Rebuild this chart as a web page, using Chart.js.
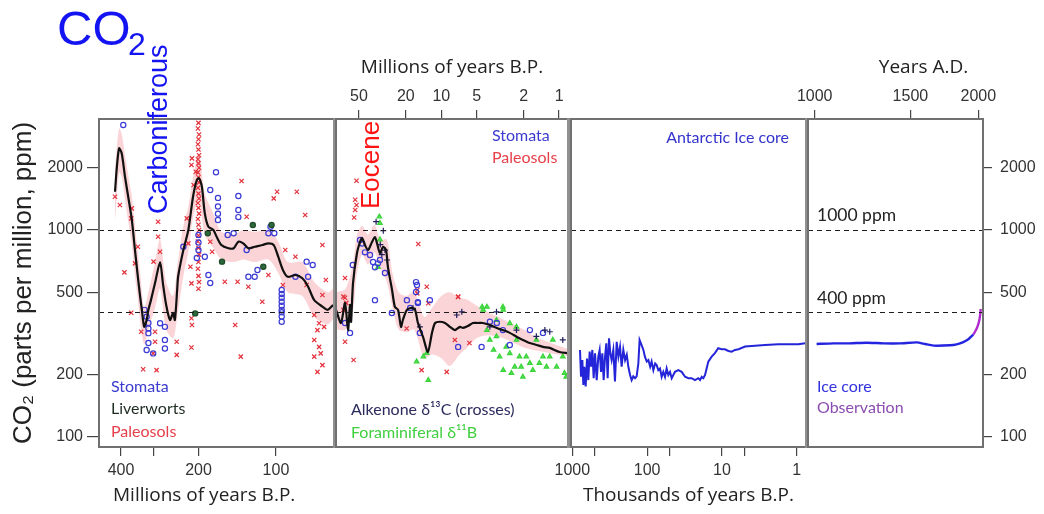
<!DOCTYPE html>
<html>
<head>
<meta charset="utf-8">
<script src="https://cdn.jsdelivr.net/npm/chart.js@4.4.1/dist/chart.umd.min.js"></script>
<style>
  html, body { margin: 0; padding: 0; background: #ffffff; }
  #wrap { position: relative; width: 1044px; height: 514px; overflow: hidden; background: #ffffff; }
  #wrap canvas { position: absolute; left: 0; top: 0; }
</style>
</head>
<body>
<div id="wrap">
  <canvas id="deep" width="1044" height="514"></canvas>
  <canvas id="ceno" width="1044" height="514"></canvas>
  <canvas id="ice" width="1044" height="514"></canvas>
  <canvas id="recent" width="1044" height="514"></canvas>
</div>
<script>
// ---- tick values ----
const ppmTicks = [100, 200, 500, 1000, 2000];
const refLevels = [1000, 400];
const deepTicks = [400, 300, 200, 100];           // millions of years B.P.
const cenoTicks = [50, 20, 10, 5, 2, 1];          // millions of years B.P.
const iceTicks = [1000, 500, 100, 50, 10, 5, 1];  // thousands of years B.P.
const adTicks = [1000, 1500, 2000];               // years A.D.

// ---- Palaeozoic / Mesozoic panel: [age Myr, CO2 ppm] ----
const deepFit = [[422,1532],[416,1951],[407,2485],[397.5,2350],[386,1811],[375,1449],[363,1118],[353,800],[344,594],[337,476],[332,411],[325,340],[318,367],[313,411],[306,458],[295,554],[282,700],[275,554],[267,434],[258,367],[251,397],[247,367],[242,513],[240,594],[229,800],[219,1000],[210,1449],[203,1746],[199,1779],[194,1620],[189,1204],[183,1037],[175,1000],[170,928],[163,846],[153,816],[146,816],[140,878],[134,862],[128,816],[121,830],[113,846],[107,862],[102,846],[98,743],[94,641],[90,594],[84,606],[79,584],[75,532],[71,458],[66,426],[63,411],[60,434]];
const deepBandUpper = [[422,2000],[407,3100],[397,2900],[386,2300],[375,1850],[363,1450],[353,1050],[344,780],[337,620],[325,420],[313,500],[295,700],[282,900],[267,560],[251,480],[242,660],[229,1050],[219,1300],[210,1800],[199,2300],[189,1500],[175,1200],[163,980],[146,950],[134,1000],[121,980],[107,1000],[98,880],[90,700],[79,700],[71,560],[63,500],[60,520]];
const deepBandLower = [[422,1100],[407,1900],[397,1800],[386,1400],[375,1100],[363,850],[353,600],[344,460],[337,360],[325,280],[313,330],[295,420],[282,520],[267,330],[251,300],[242,380],[229,600],[219,780],[210,1150],[199,1400],[189,950],[175,820],[163,720],[146,700],[134,720],[121,700],[107,720],[98,620],[90,500],[79,480],[71,380],[63,350],[60,370]];
const deepStomata = [[392,3222],[171,1903],[180,1561],[168,1430],[168,1300],[168,1200],[168,1118],[140,1460],[140,1250],[140,1155],[154,946],[200,946],[200,870],[200,800],[203,732],[189,743],[183,606],[180,554],[146,964],[130,800],[128,594],[121,594],[118,641],[107,964],[101.5,964],[105,1037],[84,594],[76,703],[72,677],[75,594],[229,830],[95,513],[95,490],[95,470],[95,450],[95,430],[95,411],[95,400],[95,382],[95,360],[324,411],[318,381],[313,355],[313,334],[313,317],[313,284],[318,263],[282,354],[270,340],[270,294],[270,267],[300,253]];
const deepLiverworts = [[162,703],[184,964],[112,664],[123,1057],[104,1057],[206,395]];
const deepPaleosols = [[422,1449],[404,1321],[363,1273],[365,1139],[344,830],[388,624],[353,690],[287,928],[282,785],[299,703],[287,1097],[212,2222],[213,2065],[205,1914],[209,1650],[222,1139],[219,862],[215,664],[213,552],[136,1725],[99,1532],[83,1532],[102,1423],[130,1160],[77,1182],[66,846],[141,562],[158,562],[128,532],[113,450],[107,606],[94,542],[64,573],[66,485],[84,743],[76,542],[92,800],[177,785],[180,878],
  [200,3300],[201,3100],[199,2900],[200,2750],[201,2600],[200,2450],[199,2300],[201,2200],[200,2100],[199,2000],[201,1900],[200,1800],[199,1700],[201,1600],[200,1500],[199,1420],[201,1350],[200,1280],[199,1200],[201,1130],[200,1060],[199,1000],[200,940],[201,880],[200,820],[199,760],[200,700],[201,650],[200,600],[199,560],[200,520],
  [365,398],[328,212],[291,210],[300,253],[295,288],[334,322],[243,249],[243,288],[213,270],[212,347],[213,374],[144,347],[137,244],[71,388],[68,354],[69,328],[71,294],[68,272],[67,253],[69,206],[66,222],[65,340],[71,244],[295,322]];

// ---- Cenozoic panel: [age Myr, CO2 ppm] ----
const cenoFit = [[78.3,411],[71.1,355],[65.7,444],[62,328],[59.6,434],[58.4,360],[56.2,554],[52,774],[49,875],[47.1,915],[44.5,846],[41.9,800],[38.8,875],[36.6,925],[35.2,865],[33.2,774],[31.3,828],[29.5,800],[28.4,662],[26.2,513],[24.8,425],[23.3,411],[22,340],[21.2,367],[19.6,411],[17.8,420],[16.7,411],[15.8,355],[14.3,304],[13,257],[12,318],[11.3,355],[10.3,360],[9.3,355],[8.45,340],[7.67,328],[6.95,340],[6.56,336],[5.95,343],[5.4,355],[4.89,355],[4.44,355],[3.87,347],[3.38,336],[3.0,328],[2.62,318],[2.28,304],[2.03,294],[1.77,284],[1.55,278],[1.37,272],[1.2,269],[0.99,257],[0.84,254]];
const cenoBandUpper = [[78,500],[65,520],[56,700],[52,950],[47,1050],[42,950],[37,1060],[33,900],[29,900],[26,620],[23,500],[20,480],[17,500],[14,380],[12,420],[10,480],[8.5,500],[7,470],[6,460],[5,430],[4,400],[3,370],[2,330],[1.5,300],[0.84,265]];
const cenoBandLower = [[78,330],[65,330],[56,420],[52,620],[47,760],[42,680],[37,780],[33,650],[29,560],[26,420],[23,330],[20,320],[17,330],[14,240],[12,250],[10,240],[8.5,220],[7,250],[6,270],[5,300],[4,310],[3,300],[2,270],[1.5,260],[0.84,245]];
const cenoStomata = [[56.5,677],[49,895],[47,860],[44.5,780],[40.3,757],[38,700],[36.6,660],[34.5,690],[33.2,716],[36.6,458],[30.1,620],[16.4,560],[16.1,542],[16.4,501],[19.6,458],[15.8,448],[12.5,458],[26.3,397],[18.4,420],[15.8,444],[15.2,318],[7.2,272],[4.55,272],[3.87,360],[3.38,355],[3.0,328],[2.62,278],[1.77,328],[1.37,318],[59.6,318],[65.7,355]];
const cenoPaleosols = [[52.5,1732],[52.5,1321],[53.9,1249],[53.9,1400],[55,1150],[15.7,856],[16.0,513],[13.3,532],[7.2,474],[65.7,586],[65.7,470],[64.1,444],[67.8,476],[67.8,411],[65.7,288],[55.6,235],[16.0,494],[12.9,442],[7.2,476],[7.67,294],[5.77,284],[14.7,210],[9.0,206],[19.7,334]];
const cenoAlkenone = [[31.1,992],[30.1,800],[28.9,716],[35.8,1097],[33,850],[32,760],[7.4,388],[6.7,402],[3.4,402],[3.87,340],[1.2,322],[1.32,328],[0.93,294],[1.56,306],[2.3,328],[15.2,340],[17.4,418]];
const cenoBoron = [[33.6,1160],[33.2,1080],[34.5,662],[33.2,900],[4.5,425],[3.0,425],[16.2,231],[14.2,244],[12.9,188],[13.3,254],[4.41,411],[4.10,328],[3.87,294],[3.6,263],[3.4,306],[3.2,244],[2.98,411],[2.81,272],[2.62,253],[2.54,203],[2.38,218],[2.3,294],[2.17,244],[2.1,218],[2.03,195],[1.9,244],[1.77,227],[1.67,210],[1.56,294],[1.47,227],[1.37,244],[1.28,218],[1.2,244],[1.13,294],[1.05,218],[0.93,244],[0.9,203],[0.87,195],[2.98,210],[2.62,354],[3.4,367],[4.10,425],[2.3,340]];

// ---- Antarctic ice core: [age kyr, CO2 ppm] ----
const iceCoreKyr = [[789,263],[765,195],[734,235],[712,178],[691,218],[663,175],[636,239],[611,188],[586,258],[562,218],[540,263],[518,192],[497,253],[472,188],[449,244],[431,263],[413,206],[397,253],[381,188],[365,244],[351,283],[337,192],[323,299],[310,253],[298,235],[283,263],[269,185],[255,288],[242,244],[230,272],[219,218],[208,263],[197,235],[187,249],[178,218],[169,199],[161,188],[153,196],[145,192],[138,196],[131,226],[126,294],[121,283],[112,263],[107,244],[101,231],[96,235],[91,218],[87,231],[82.5,210],[78,226],[74.5,222],[70.8,210],[67.2,214],[63.9,195],[60.7,206],[57.6,195],[54.8,214],[52,199],[49.4,206],[46.9,192],[42.4,206],[38.2,210],[34.5,206],[31.1,195],[28.1,192],[25.4,192],[22.9,188],[20.7,192],[19.6,188],[18.6,195],[17.7,192],[16.8,199],[16,214],[15.2,231],[13.7,244],[12.4,254],[11.2,268],[10.1,265],[9.1,265],[8.2,260],[7.4,258],[6.7,263],[6.0,265],[4.9,273],[4.0,275],[2.65,278],[1.76,280],[1.17,280],[0.95,280],[0.77,283]];

// ---- last millennium: [year A.D., CO2 ppm] ----
const iceCoreAD = [[1008,281],[1082,283],[1161,283],[1246,285],[1338,283],[1436,283],[1540,286],[1596,281],[1653,276],[1774,277],[1825,280],[1877,287],[1917,296],[1945,307],[1958,312]];
const observationAD = [[1958,312],[1972,322],[1992,340],[2009,367],[2017,395],[2020,415]];

// ---------------------------------------------------------------
const NUM_FONT = { family: '"Liberation Sans", Arial, sans-serif', size: 16 };
const LABEL_FONT = { family: '"Open Sans", Lato, sans-serif', size: 19 };
const PPM_MIN = 89.2, PPM_MAX = 3444;
const NBSP = '\u00a0';

const pairs = arr => arr.map(([x, y]) => ({ x, y }));

// dashed reference levels, panel frame and the grey divider to the next panel
const panelFrame = {
  id: 'panelFrame',
  afterDatasetsDraw(chart, args, opts) {
    const { ctx, chartArea: a } = chart;
    const y = chart.scales.y;
    ctx.save();
    ctx.strokeStyle = '#1c1c1c';
    ctx.lineWidth = 1.2;
    ctx.setLineDash([5, 4]);
    refLevels.forEach(v => {
      const py = Math.round(y.getPixelForValue(v)) + 0.5;
      ctx.beginPath();
      ctx.moveTo(a.left, py);
      ctx.lineTo(a.right, py);
      ctx.stroke();
    });
    ctx.setLineDash([]);
    ctx.strokeStyle = '#707070';
    ctx.lineWidth = 2;
    ctx.strokeRect(a.left, a.top, a.right - a.left, a.bottom - a.top);
    if (opts.divider) {
      ctx.fillStyle = '#909090';
      ctx.fillRect(a.right - 1, a.top - 1, 4, a.bottom - a.top + 2);
    }
    ctx.restore();
  }
};

// free text: legends, era names and the header
const notes = {
  id: 'notes',
  afterDraw(chart, args, opts) {
    const ctx = chart.ctx;
    (opts.items || []).forEach(n => {
      ctx.save();
      ctx.font = n.font || '16px Lato, "Open Sans", sans-serif';
      ctx.fillStyle = n.color;
      ctx.textBaseline = n.baseline || 'middle';
      ctx.textAlign = n.align || 'left';
      ctx.translate(n.x, n.y);
      if (n.rotate) ctx.rotate(n.rotate);
      ctx.fillText(n.text, 0, 0);
      ctx.restore();
    });
  }
};

function timeAxis(position, min, max, tickValues, labelled, title, align, reverse) {
  return {
    type: 'logarithmic', position, min, max, reverse,
    afterBuildTicks: s => { s.ticks = tickValues.map(v => ({ value: v })); },
    afterFit: s => { s.height = position === 'top' ? 69 : 67; },
    ticks: {
      autoSkip: false, maxRotation: 0, minRotation: 0,
      padding: position === 'top' ? 4 : 5,
      font: NUM_FONT, color: '#333',
      callback: v => (labelled.includes(v) ? String(v) : '')
    },
    grid: { drawOnChartArea: false, drawTicks: true, tickLength: 9, color: '#444', lineWidth: 1.2 },
    border: { display: false },
    title: { display: true, text: title, align, font: LABEL_FONT, color: '#222', padding: { top: 6, bottom: 7 } }
  };
}

function ppmAxis(position, display, width, title) {
  return {
    type: 'logarithmic', position, display, min: PPM_MIN, max: PPM_MAX,
    afterBuildTicks: s => { s.ticks = ppmTicks.map(v => ({ value: v })); },
    afterFit: s => { s.width = width; },
    ticks: { padding: position === 'left' ? 4 : 8, font: NUM_FONT, color: '#333', callback: v => String(v) },
    grid: { drawOnChartArea: false, drawTicks: true, tickLength: position === 'left' ? 12 : 9, color: '#444', lineWidth: 1.2 },
    border: { display: false },
    title: title
      ? { display: true, text: title, font: { family: '"Liberation Sans", Arial, sans-serif', size: 26 }, color: '#222', padding: { top: 8, bottom: 0 } }
      : { display: false }
  };
}

function baseOptions(padding, scales, frameOpts, noteItems) {
  return {
    responsive: false, animation: false, devicePixelRatio: 1, events: [],
    layout: { padding },
    scales,
    elements: { point: { radius: 0 } },
    plugins: {
      legend: { display: false }, tooltip: { enabled: false },
      panelFrame: frameOpts, notes: { items: noteItems }
    }
  };
}

const fitLine = (data) => ({ data: pairs(data), borderColor: '#111', borderWidth: 2.2, pointRadius: 0, tension: 0.25, fill: false, order: 0 });
const bandTop = (data) => ({ data: pairs(data), borderWidth: 0, pointRadius: 0, tension: 0.3, fill: '+1', backgroundColor: 'rgba(246,152,160,0.42)', order: 9 });
const bandBottom = (data) => ({ data: pairs(data), borderWidth: 0, pointRadius: 0, tension: 0.3, fill: false, order: 9 });
const marks = (data, style, color, fillColor, r, order) => ({
  data: pairs(data), showLine: false, pointStyle: style, pointRadius: r,
  pointBorderColor: color, pointBackgroundColor: fillColor, pointBorderWidth: 1.2, order
});

const LEG = '16px Lato, "Open Sans", sans-serif';
const PPM_NOTE = '17.5px Lato, "Open Sans", sans-serif';

// ---- panel 1: 420 - 60 Myr ----
new Chart(document.getElementById('deep'), {
  type: 'line',
  data: { datasets: [
    fitLine(deepFit),
    marks(deepStomata, 'circle', '#3a3ad4', 'rgba(0,0,0,0)', 2.6, 3),
    marks(deepLiverworts, 'circle', '#1f4a2a', '#2c6a3a', 2.6, 2),
    marks(deepPaleosols, 'crossRot', '#e4323c', '#e4323c', 3, 4),
    bandTop(deepBandUpper),
    bandBottom(deepBandLower)
  ] },
  options: baseOptions(
    { left: 0, right: 710, top: 119, bottom: 0 },
    {
      x: timeAxis('bottom', 59.5, 487, deepTicks, [400, 200, 100], 'Millions of years B.P.' + NBSP.repeat(5), 'center', true),
      y: ppmAxis('left', true, 99, 'CO\u2082 (parts per million, ppm)')
    },
    { divider: true },
    [
      { text: 'CO', x: 57, y: 45, baseline: 'alphabetic', font: '49px "Liberation Sans", Arial, sans-serif', color: '#1414f2' },
      { text: '2', x: 128, y: 55, baseline: 'alphabetic', font: '32px "Liberation Sans", Arial, sans-serif', color: '#1414f2' },
      { text: 'Carboniferous', x: 167, y: 214, baseline: 'alphabetic', rotate: -Math.PI / 2, font: '27px "Liberation Sans", Arial, sans-serif', color: '#1414f2' },
      { text: 'Stomata', x: 111, y: 387, font: LEG, color: '#3b3bd0' },
      { text: 'Liverworts', x: 111, y: 409, font: LEG, color: '#1e2c22' },
      { text: 'Paleosols', x: 111, y: 432, font: LEG, color: '#e6404a' }
    ]
  ),
  plugins: [panelFrame, notes]
});

// ---- panel 2: Cenozoic ----
new Chart(document.getElementById('ceno'), {
  type: 'line',
  data: { datasets: [
    fitLine(cenoFit),
    marks(cenoAlkenone, 'cross', '#1e1e5a', '#1e1e5a', 3, 2),
    marks(cenoStomata, 'circle', '#3a3ad4', 'rgba(0,0,0,0)', 2.6, 3),
    marks(cenoPaleosols, 'crossRot', '#e4323c', '#e4323c', 3, 4),
    marks(cenoBoron, 'triangle', '#3ad43a', '#5ae05a', 2.6, 5),
    bandTop(cenoBandUpper),
    bandBottom(cenoBandLower)
  ] },
  options: baseOptions(
    { left: 336, right: 476, top: 50, bottom: 67 },
    {
      x: timeAxis('top', 0.84, 78.4, cenoTicks, cenoTicks, 'Millions of years B.P.', 'center', true),
      y: ppmAxis('left', false, 0, null)
    },
    { divider: true },
    [
      { text: 'Eocene', x: 379, y: 209, baseline: 'alphabetic', rotate: -Math.PI / 2, font: '26px "Liberation Sans", Arial, sans-serif', color: '#ff1414' },
      { text: 'Stomata', x: 492, y: 136, font: LEG, color: '#3b3bd0' },
      { text: 'Paleosols', x: 492, y: 158, font: LEG, color: '#e6404a' },
      { text: 'Alkenone \u03b4\u00b9\u00b3C (crosses)', x: 351, y: 410, font: LEG, color: '#2b2b5e' },
      { text: 'Foraminiferal \u03b4\u00b9\u00b9B', x: 351, y: 433, font: LEG, color: '#3fcf3f' }
    ]
  ),
  plugins: [panelFrame, notes]
});

// ---- panel 3: Antarctic ice core, thousands of years ----
new Chart(document.getElementById('ice'), {
  type: 'line',
  data: { datasets: [
    { data: pairs(iceCoreKyr), borderColor: '#2424d8', borderWidth: 2, pointRadius: 0, tension: 0, fill: false }
  ] },
  options: baseOptions(
    { left: 571, right: 238, top: 119, bottom: 0 },
    {
      x: timeAxis('bottom', 0.751, 1041, iceTicks, [1000, 100, 10, 1], 'Thousands of years B.P.', 'center', true),
      y: ppmAxis('left', false, 0, null)
    },
    { divider: true },
    [
      { text: 'Antarctic Ice core', x: 789, y: 138, align: 'right', font: LEG, color: '#3434cc' }
    ]
  ),
  plugins: [panelFrame, notes]
});

// ---- panel 4: last millennium ----
new Chart(document.getElementById('recent'), {
  type: 'line',
  data: { datasets: [
    { data: pairs(observationAD), borderColor: '#b02ad0', borderWidth: 2.4, pointRadius: 0, tension: 0.2, fill: false },
    { data: pairs(iceCoreAD), borderColor: '#2424e0', borderWidth: 2.4, pointRadius: 0, tension: 0.2, fill: false }
  ] },
  options: baseOptions(
    { left: 808, right: 0, top: 50, bottom: 67 },
    {
      x: timeAxis('top', 972, 2040, adTicks, adTicks, 'Years A.D.' + NBSP.repeat(3), 'end', false),
      y: ppmAxis('right', true, 61, null)
    },
    { divider: false },
    [
      { text: '1000 ppm', x: 817, y: 215, font: PPM_NOTE, color: '#222' },
      { text: '400 ppm', x: 817, y: 298, font: PPM_NOTE, color: '#222' },
      { text: 'Ice core', x: 817, y: 387, font: LEG, color: '#3333dd' },
      { text: 'Observation', x: 817, y: 408, font: LEG, color: '#8a4cb0' }
    ]
  ),
  plugins: [panelFrame, notes]
});
</script>
</body>
</html>
